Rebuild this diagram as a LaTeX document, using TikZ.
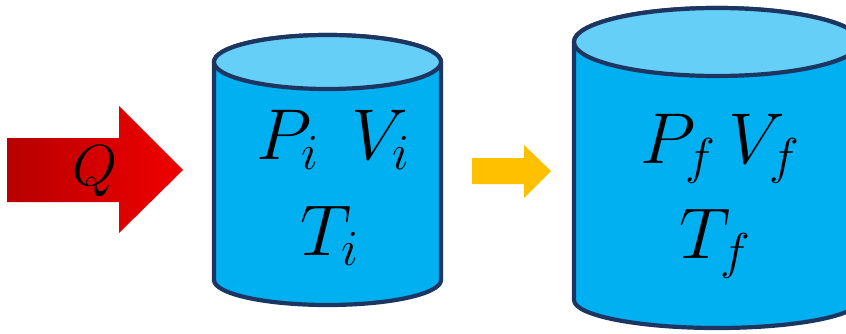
\RequirePackage{fix-cm}
\documentclass[tikz,border=0pt]{standalone}
\definecolor{cylbody}{HTML}{00B0F0}
\definecolor{cyltop}{HTML}{66CFF7}
\definecolor{cylline}{HTML}{1C3661}
\definecolor{arrdark}{HTML}{B80000}
\definecolor{arrlight}{HTML}{F00000}
\definecolor{arryellow}{HTML}{FFC000}
\tikzset{
  cyl/.style={draw=cylline, line width=4.2pt, line join=round},
  bigmath/.style={font=\fontsize{72}{80}\selectfont, inner sep=0pt, anchor=base},
  qmath/.style={font=\fontsize{58}{66}\selectfont, inner sep=0pt, anchor=base}
}
\begin{document}
\begin{tikzpicture}[x=1pt,y=1pt]
\useasboundingbox (0,0) rectangle (846,333);
\clip (0,0) rectangle (846,333);
% red arrow
\path[left color=arrdark, right color=arrlight]
  (7,195) -- (119,195) -- (119,227) -- (183,163) -- (119,100) -- (119,131) -- (7,131) -- cycle;
\node[qmath] (q) at (95,148) {$Q$};
% cylinder 1
\draw[cyl, fill=cylbody] (214,271) -- (214,53)
  arc[start angle=180, end angle=360, x radius=113.5, y radius=25]
  -- (441,271)
  arc[start angle=0, end angle=180, x radius=113.5, y radius=27] -- cycle;
\draw[cyl, fill=cyltop] (327.5,271) ellipse[x radius=113.5, y radius=27];
\node[bigmath] (pv1) at (333,174) {$P_i\mskip 8mu V_i$};
\node[bigmath] (t1) at (330,78) {$T_i$};
% yellow arrow
\path[fill=arryellow]
  (472,175) -- (524,175) -- (524,188) -- (551,162) -- (524,135) -- (524,149) -- (472,149) -- cycle;
% cylinder 2
\draw[cyl, fill=cylbody] (574,291) -- (574,33)
  arc[start angle=180, end angle=360, x radius=143, y radius=28]
  -- (860,291)
  arc[start angle=0, end angle=180, x radius=143, y radius=34] -- cycle;
\draw[cyl, fill=cyltop] (717,291) ellipse[x radius=143, y radius=34];
\node[bigmath] (pv2) at (720,170) {$P_f\,V_f$};
\node[bigmath] (t2) at (715,75) {$T_f$};
\end{tikzpicture}
\end{document}
